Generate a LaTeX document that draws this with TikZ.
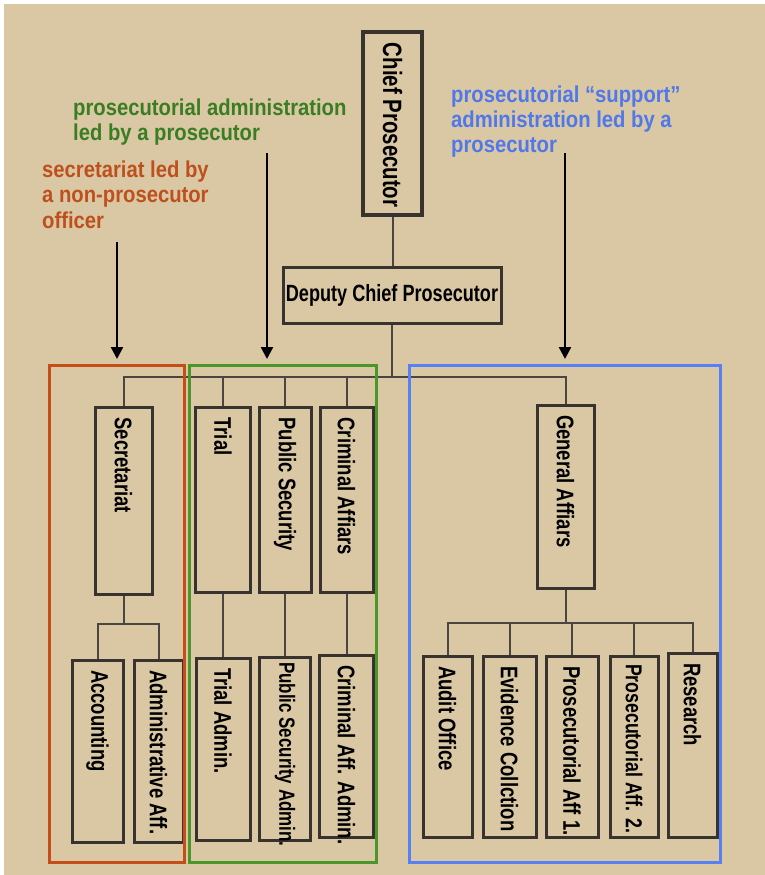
\documentclass[tikz,border=0pt]{standalone}
\usepackage{fontspec}
\usepackage{graphicx}
\usetikzlibrary{arrows.meta}
\newfontfamily\boxfont[FakeStretch=0.77,BoldFeatures={FakeStretch=0.77}]{Liberation Sans}
\newfontfamily\labfont[FakeStretch=0.88,BoldFeatures={FakeStretch=0.88}]{Liberation Sans}
\definecolor{paper}{HTML}{D9C8A3}
\definecolor{ink}{HTML}{38332F}
\definecolor{ink2}{HTML}{4A4540}
\definecolor{redc}{HTML}{C44E18}
\definecolor{greenc}{HTML}{4A9628}
\definecolor{bluec}{HTML}{5880F5}
\definecolor{redt}{HTML}{BE501E}
\definecolor{greent}{HTML}{3A7D23}
\definecolor{bluet}{HTML}{5078EB}
\newcommand\vtxt[3][24]{\rotatebox{-90}{\makebox[#2pt][l]{\fontsize{#1}{#1}\selectfont #3}}}
\newcommand\labtxt[1]{\parbox[t]{330pt}{\raggedright\fontsize{23}{25.5}\selectfont #1}}
\tikzset{
  orgbox/.style={draw=ink, line width=3pt, inner sep=0pt, font=\boxfont\bfseries, text=black},
  conn/.style={draw=ink2, line width=2pt},
  grp/.style={line width=3pt},
  callout/.style={draw=black, line width=2.5pt, -{Triangle[width=12pt,length=12pt]}},
  lab/.style={anchor=base west, inner sep=0pt, font=\labfont\bfseries},
}
\begin{document}
\begin{tikzpicture}[x=1pt,y=-1pt]
\useasboundingbox (0,0) rectangle (765,875);
\fill[white] (0,0) rectangle (765,875);
\fill[paper] (4,4) rectangle (765,875);

% top
\node[orgbox, line width=3.3pt, minimum width=59pt, minimum height=183pt] (chief) at (392.5,123.5) {\vtxt[26.5]{161}{Chief Prosecutor}};
\node[orgbox, minimum width=218pt, minimum height=56pt, font=\boxfont\bfseries\fontsize{23.5}{23.5}\selectfont] (deputy) at (392,295) {Deputy Chief Prosecutor};

% upper row
\node[orgbox, minimum width=57pt, minimum height=187pt] (sec) at (123.5,501) {\vtxt{167}{Secretariat}};
\node[orgbox, minimum width=55pt, minimum height=185pt] (trial) at (223,500) {\vtxt{165}{Trial}};
\node[orgbox, minimum width=52pt, minimum height=185pt] (pubsec) at (285,500) {\vtxt{165}{Public Security}};
\node[orgbox, minimum width=53pt, minimum height=185pt] (crim) at (346.5,500) {\vtxt{165}{Criminal Affiars}};
\node[orgbox, minimum width=57pt, minimum height=183pt] (ga) at (565.5,496.5) {\vtxt{163}{General Affiars}};

% lower row
\node[orgbox, minimum width=51pt, minimum height=182pt] (acc) at (97.5,751) {\vtxt{162}{Accounting}};
\node[orgbox, minimum width=49pt, minimum height=182pt] (adm) at (158.5,751) {\vtxt{162}{Administrative Aff.}};
\node[orgbox, minimum width=54pt, minimum height=182pt] (trialadm) at (223,749) {\vtxt{162}{Trial Admin.}};
\node[orgbox, minimum width=51pt, minimum height=183pt] (psadm) at (285,748.5) {\vtxt[22]{173}{Public Security Admin.}};
\node[orgbox, minimum width=54pt, minimum height=182pt] (cadm) at (346.5,746) {\vtxt{162}{Criminal Aff. Admin.}};
\node[orgbox, minimum width=49pt, minimum height=181pt] (audit) at (447.5,746.5) {\vtxt{161}{Audit Office}};
\node[orgbox, minimum width=53pt, minimum height=181pt] (evid) at (509.5,746.5) {\vtxt{161}{Evidence Collction}};
\node[orgbox, minimum width=52pt, minimum height=181pt] (pa1) at (572,746.5) {\vtxt{161}{Prosecutorial Aff 1.}};
\node[orgbox, minimum width=48pt, minimum height=181pt] (pa2) at (634,746.5) {\vtxt[23]{165}{Prosecutorial Aff. 2.}};
\node[orgbox, minimum width=49pt, minimum height=184pt] (res) at (692.5,745) {\vtxt{164}{Research}};

% connectors
\coordinate (bus) at (392,377);
\coordinate (secbus) at (126,624);
\coordinate (gabus) at (565,623);
\draw[conn] (chief.south) -- (chief.south |- deputy.north);
\draw[conn] (deputy.south) -- (bus);
\draw[conn] (sec.north) -- (sec.north |- bus) -- (ga.north |- bus) -- (ga.north);
\draw[conn] (trial.north) -- (trial.north |- bus);
\draw[conn] (pubsec.north) -- (pubsec.north |- bus);
\draw[conn] (crim.north) -- (crim.north |- bus);
\draw[conn] (sec.south) -- (sec.south |- secbus);
\draw[conn] (acc.north) -- (acc.north |- secbus) -- (adm.north |- secbus) -- (adm.north);
\draw[conn] (trial.south) -- (trialadm.north);
\draw[conn] (pubsec.south) -- (psadm.north);
\draw[conn] (crim.south) -- (cadm.north);
\draw[conn] (ga.south) -- (ga.south |- gabus);
\draw[conn] (audit.north) -- (audit.north |- gabus) -- (res.north |- gabus) -- (res.north);
\draw[conn] (evid.north) -- (evid.north |- gabus);
\draw[conn] (pa1.north) -- (pa1.north |- gabus);
\draw[conn] (pa2.north) -- (pa2.north |- gabus);

% group frames
\draw[grp, draw=redc] (49,365) rectangle (184,862);
\draw[grp, draw=greenc] (189,365) rectangle (376,862);
\draw[grp, draw=bluec] (409,365) rectangle (720,862);

% labels
\node[lab, text=greent] (lgreen) at (73,115) {\labtxt{prosecutorial administration\\led by a prosecutor}};
\node[lab, text=redt] (lred) at (42,177) {\labtxt{secretariat led by\\a non-prosecutor\\officer}};
\node[lab, text=bluet] (lblue) at (451,102) {\labtxt{prosecutorial “support”\\administration led by a\\prosecutor}};

% callout arrows
\coordinate (ra0) at (117,242); \coordinate (ra1) at (117,359);
\coordinate (ga0) at (267,153); \coordinate (ga1) at (267,359);
\coordinate (ba0) at (565,153); \coordinate (ba1) at (565,359);
\draw[callout] (ra0) -- (ra1);
\draw[callout] (ga0) -- (ga1);
\draw[callout] (ba0) -- (ba1);
\end{tikzpicture}
\end{document}
